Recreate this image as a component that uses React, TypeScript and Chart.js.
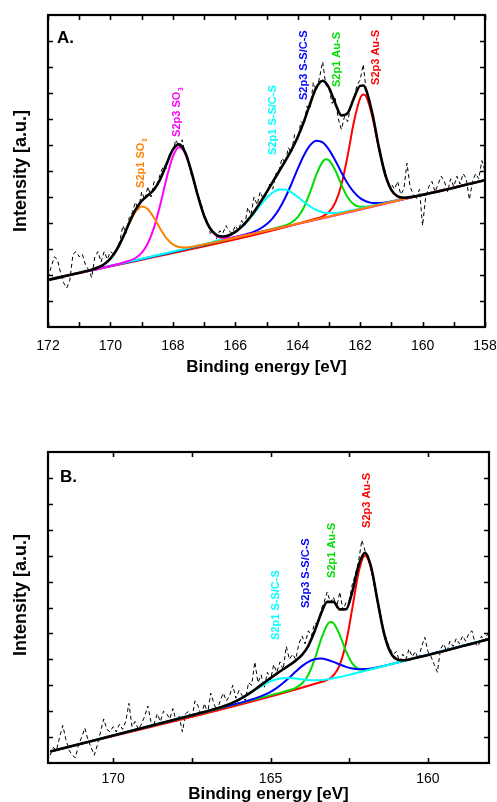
import React, { useEffect, useRef } from "react";
import { Chart, registerables } from "chart.js";
Chart.register(...registerables);

const FONT = "Arial, 'Liberation Sans', Helvetica, sans-serif";

// ---------------- Panel A data ----------------
const topRawStart = 172.0;
const rawStep = 0.1;
const topRaw = [
  1.9, 2.3, 2.7, 2.6, 2.1, 1.7, 1.5, 1.8, 2.8, 2.9,
  2.7, 2.8, 2.4, 2.2, 1.9, 2.7, 2.9, 2.5, 2.9, 2.6,
  2.9, 2.8, 3.0, 3.3, 3.9, 3.6, 4.2, 4.4, 4.8, 4.5,
  5.2, 4.9, 5.4, 5.0, 5.6, 5.5, 5.9, 6.2, 6.1, 6.7,
  6.8, 7.2, 6.9, 7.2, 6.6, 6.4, 5.8, 5.6, 5.0, 4.8,
  4.3, 4.0, 3.6, 3.7, 3.4, 3.7, 3.6, 3.9, 3.7, 3.6,
  3.9, 3.7, 4.1, 3.9, 4.6, 4.3, 5.0, 4.7, 5.2, 4.9,
  5.1, 5.5, 5.3, 5.9, 6.0, 6.5, 6.3, 6.9, 6.7, 7.4,
  7.2, 7.9, 7.8, 8.5, 8.4, 9.4, 9.1, 9.6, 10.2, 9.3,
  9.2, 8.6, 8.8, 8.0, 7.6, 8.1, 7.9, 8.5, 8.8, 9.3,
  9.5, 10.1, 9.0, 8.7, 8.2, 7.5, 7.0, 6.4, 6.0, 5.5,
  5.5, 5.3, 5.6, 5.1, 5.3, 6.3, 5.4, 5.1, 4.9, 5.3,
  3.9, 5.0, 5.4, 5.6, 5.2, 5.5, 5.8, 5.6, 5.2, 5.7,
  5.4, 5.8, 5.5, 5.9, 5.7, 4.9, 5.6, 5.9, 5.7, 6.4,
  6.0,
];

const topSumE = [172, 170.8, 170.6, 170.4, 170.2, 170.0, 169.8, 169.6, 169.4, 169.2, 169.0, 168.8, 168.6, 168.4, 168.2, 168.0, 167.8, 167.6, 167.4, 167.2, 167.0, 166.8, 166.6, 166.4, 166.2, 166.0, 165.8, 165.6, 165.4, 165.2, 165.0, 164.8, 164.6, 164.4, 164.2, 164.0, 163.8, 163.6, 163.4, 163.2, 163.0, 162.8, 162.6, 162.4, 162.2, 162.0, 161.9, 161.8, 161.6, 161.4, 161.2, 161.0, 160.8, 160.6, 160.4, 158];
const topSumY = [1.81, 2.142, 2.206, 2.288, 2.415, 2.628, 2.970, 3.448, 3.998, 4.501, 4.853, 5.066, 5.292, 5.694, 6.275, 6.822, 7.023, 6.702, 5.950, 5.052, 4.282, 3.778, 3.536, 3.475, 3.529, 3.656, 3.851, 4.108, 4.423, 4.788, 5.179, 5.580, 5.982, 6.382, 6.809, 7.308, 7.906, 8.597, 9.212, 9.471, 9.209, 8.608, 8.141, 8.228, 8.798, 9.274, 9.286, 9.091, 8.161, 6.915, 5.879, 5.272, 5.021, 4.970, 4.995, 5.646];

const topOrangeE = [172, 170.8, 170.6, 170.4, 170.2, 170.0, 169.8, 169.6, 169.4, 169.2, 169.0, 168.8, 168.6, 168.4, 168.2, 168.0, 167.8, 167.6, 167.4, 167.2, 158];
const topOrangeY = [1.81, 2.142, 2.206, 2.288, 2.415, 2.628, 2.969, 3.442, 3.974, 4.423, 4.632, 4.533, 4.194, 3.770, 3.407, 3.176, 3.073, 3.056, 3.082, 3.128, 5.646];

const topMagentaE = [172, 169.6, 169.4, 169.2, 169.0, 168.8, 168.6, 168.4, 168.2, 168.0, 167.8, 167.6, 167.4, 167.2, 167.0, 166.8, 166.6, 166.4, 166.2, 166.0, 158];
const topMagentaY = [1.81, 2.474, 2.546, 2.655, 2.853, 3.220, 3.840, 4.720, 5.719, 6.552, 6.911, 6.662, 5.938, 5.049, 4.278, 3.768, 3.511, 3.422, 3.423, 3.460, 5.646];

const topCyanE = [172, 167.0, 166.8, 166.6, 166.4, 166.2, 166.0, 165.8, 165.6, 165.4, 165.2, 165.0, 164.8, 164.6, 164.4, 164.2, 164.0, 163.8, 163.6, 163.4, 163.2, 163.0, 162.8, 162.6, 162.4, 162.2, 158];
const topCyanY = [1.81, 3.184, 3.245, 3.315, 3.397, 3.505, 3.650, 3.843, 4.086, 4.372, 4.678, 4.959, 5.175, 5.288, 5.284, 5.178, 5.007, 4.811, 4.634, 4.500, 4.417, 4.382, 4.384, 4.411, 4.450, 4.499, 5.646];

const topBlueE = [172, 165.8, 165.6, 165.4, 165.2, 165.0, 164.8, 164.6, 164.4, 164.2, 164.0, 163.8, 163.6, 163.4, 163.2, 163.0, 162.8, 162.6, 162.4, 162.2, 162.0, 161.8, 161.6, 161.4, 161.2, 161.0, 158];
const topBlueY = [1.81, 3.517, 3.586, 3.669, 3.783, 3.948, 4.188, 4.528, 4.972, 5.507, 6.081, 6.604, 6.992, 7.166, 7.101, 6.823, 6.410, 5.946, 5.520, 5.185, 4.955, 4.825, 4.770, 4.765, 4.791, 4.832, 5.646];

const topGreenE = [172, 164.6, 164.4, 164.2, 164.0, 163.8, 163.6, 163.4, 163.2, 163.1, 163.0, 162.8, 162.6, 162.4, 162.2, 162.0, 161.8, 161.6, 158];
const topGreenY = [1.81, 3.842, 3.910, 4.018, 4.224, 4.605, 5.194, 5.871, 6.359, 6.449, 6.414, 6.036, 5.468, 4.988, 4.717, 4.621, 4.623, 4.664, 5.646];

const topRedE = [172, 163.4, 163.2, 163.0, 162.8, 162.6, 162.4, 162.2, 162.0, 161.9, 161.8, 161.6, 161.4, 161.2, 161.0, 160.8, 160.6, 160.4, 158];
const topRedY = [1.81, 4.173, 4.257, 4.418, 4.771, 5.474, 6.590, 7.882, 8.798, 8.947, 8.853, 8.047, 6.864, 5.857, 5.264, 5.021, 4.970, 4.995, 5.646];

const topTickLabels = [158, 160, 162, 164, 166, 168, 170, 172];
const topMinorTicks = [159, 161, 163, 165, 167, 169, 171];

const topLabelText = ["S2p1 SO", "S2p3 SO", "S2p1 S-S/C-S", "S2p3 S-S/C-S", "S2p1 Au-S", "S2p3 Au-S"];
const topLabelSub = ["3", "3", "", "", "", ""];
const topLabelEnergy = [169.02, 167.87, 164.79, 163.79, 162.74, 161.49];
const topLabelLevel = [5.35, 7.31, 6.62, 8.73, 9.23, 9.31];

// ---------------- Panel B data ----------------
const botRawStart = 172.0;
const botRaw = [
  0.3, 0.6, 0.5, 1.0, 1.45, 0.9, 0.5, 0.3, 0.2, 0.7,
  1.0, 1.35, 0.9, 0.6, 0.3, 0.7, 1.2, 1.7, 1.3, 1.2,
  1.4, 1.2, 1.5, 1.3, 1.6, 2.3, 1.4, 1.6, 1.3, 1.5,
  1.8, 2.2, 1.6, 1.5, 1.9, 1.6, 2.0, 1.9, 1.7, 2.1,
  1.6, 1.8, 1.2, 1.9, 2.0, 1.7, 2.4, 2.2, 1.8, 2.3,
  1.9, 2.7, 2.3, 2.0, 2.4, 2.7, 2.4, 2.6, 3.0, 2.5,
  2.8, 2.6, 2.4, 3.1, 3.0, 3.9, 3.1, 3.4, 2.9, 3.5,
  3.2, 3.8, 3.5, 3.9, 3.6, 4.5, 4.0, 4.2, 4.0, 4.6,
  4.9, 4.6, 5.1, 4.9, 5.4, 5.3, 5.9, 6.2, 6.6, 6.2,
  6.4, 6.0, 6.6, 5.9, 6.2, 6.3, 6.9, 7.3, 7.8, 8.6,
  8.2, 8.0, 7.4, 6.9, 6.3, 5.7, 5.1, 4.7, 4.4, 4.2,
  4.3, 3.9, 4.2, 4.0, 4.4, 4.1, 4.3, 4.0, 4.5, 4.85,
  4.3, 4.1, 3.8, 3.5, 4.4, 4.6, 4.3, 4.7, 4.5, 4.8,
  4.6, 4.9, 4.7, 5.0, 5.1, 4.6, 4.5, 4.9, 4.7, 5.0,
  4.9,
];

const botSumE = [172, 167.2, 167.0, 166.8, 166.6, 166.4, 166.2, 166.0, 165.8, 165.6, 165.4, 165.2, 165.0, 164.8, 164.6, 164.4, 164.2, 164.0, 163.8, 163.6, 163.4, 163.2, 163.0, 162.8, 162.6, 162.4, 162.2, 162.0, 161.8, 161.6, 161.4, 161.2, 161.0, 160.8, 160.6, 158];
const botSumY = [0.44, 1.937, 2.002, 2.071, 2.146, 2.231, 2.329, 2.448, 2.588, 2.745, 2.919, 3.099, 3.277, 3.451, 3.616, 3.778, 3.950, 4.169, 4.523, 5.082, 5.750, 6.218, 6.218, 5.928, 5.935, 6.617, 7.631, 8.108, 7.533, 6.255, 5.030, 4.291, 4.004, 3.958, 3.995, 4.80];

const botCyanE = [172, 167.2, 167.0, 166.8, 166.6, 166.4, 166.2, 166.0, 165.8, 165.6, 165.4, 165.2, 165.0, 164.8, 164.6, 164.4, 164.2, 164.0, 163.8, 163.6, 163.4, 163.2, 163.0, 162.8, 162.6, 162.4, 158];
const botCyanY = [0.44, 1.937, 2.002, 2.071, 2.146, 2.231, 2.329, 2.445, 2.581, 2.729, 2.884, 3.029, 3.149, 3.232, 3.273, 3.278, 3.258, 3.227, 3.203, 3.193, 3.201, 3.227, 3.267, 3.317, 3.372, 3.431, 4.80];

const botBlueE = [172, 166.0, 165.8, 165.6, 165.4, 165.2, 165.0, 164.8, 164.6, 164.4, 164.2, 164.0, 163.8, 163.6, 163.4, 163.2, 163.0, 162.8, 162.6, 162.4, 162.2, 162.0, 161.8, 161.6, 161.4, 161.2, 158];
const botBlueY = [0.44, 2.311, 2.378, 2.449, 2.530, 2.628, 2.748, 2.901, 3.086, 3.301, 3.527, 3.738, 3.905, 4.006, 4.030, 3.987, 3.901, 3.799, 3.709, 3.648, 3.620, 3.624, 3.651, 3.695, 3.748, 3.806, 4.80];

const botGreenE = [172, 164.6, 164.4, 164.2, 164.0, 163.8, 163.6, 163.4, 163.2, 163.1, 163.0, 162.8, 162.6, 162.4, 162.2, 162.0, 161.8, 161.6, 158];
const botGreenY = [0.44, 2.745, 2.813, 2.903, 3.066, 3.401, 3.995, 4.750, 5.334, 5.441, 5.397, 4.937, 4.306, 3.837, 3.627, 3.588, 3.622, 3.680, 4.80];

const botRedE = [172, 163.4, 163.2, 163.0, 162.8, 162.6, 162.4, 162.2, 162.0, 161.8, 161.6, 161.4, 161.2, 161.0, 160.8, 160.6, 158];
const botRedY = [0.44, 3.123, 3.210, 3.382, 3.790, 4.649, 5.988, 7.368, 8.004, 7.492, 6.238, 5.023, 4.288, 4.004, 3.958, 3.995, 4.80];

const botTickLabels = [160, 165, 170];
const botMinorTicks = [162.5, 167.5];

const botLabelText = ["S2p1 S-S/C-S", "S2p3 S-S/C-S", "S2p1 Au-S", "S2p3 Au-S"];
const botLabelSub = ["", "", "", ""];
const botLabelEnergy = [164.82, 163.87, 163.04, 161.93];
const botLabelLevel = [4.75, 5.98, 7.14, 9.07];

const yTickValues = [1, 2, 3, 4, 5, 6, 7, 8, 9, 10, 11];

// ---------------- styles ----------------
const C_ORANGE = "#ff8000";
const C_MAGENTA = "#ff00ff";
const C_CYAN = "#00ffff";
const C_BLUE = "#0000ff";
const C_GREEN = "#00dd00";
const C_RED = "#ff0000";

const topLabelColor = [C_ORANGE, C_MAGENTA, C_CYAN, C_BLUE, C_GREEN, C_RED];
const botLabelColor = [C_CYAN, C_BLUE, C_GREEN, C_RED];

const pts = (xs: number[], ys: number[]) => xs.map((x, i) => ({ x, y: ys[i] }));
const rawPts = (start: number, ys: number[]) =>
  ys.map((y, i) => ({ x: Math.round((start - i * rawStep) * 100) / 100, y }));

const curve = (data: any, color: string, width = 2) => ({
  data,
  borderColor: color,
  borderWidth: width,
  pointRadius: 0,
  fill: false,
  cubicInterpolationMode: "monotone",
});

type PanelCfg = {
  letter: string;
  letterDx: number;
  letterDy: number;
  xTicks: number[];
  labels: { text: string; sub: string; energy: number; level: number; color: string }[];
};

function makeFramePlugin(cfg: PanelCfg) {
  return {
    id: "frameTicks",
    afterDatasetsDraw(chart: any) {
      const { ctx, chartArea } = chart;
      const { left, right, top, bottom } = chartArea;
      const xs = chart.scales.x;
      const ys = chart.scales.y;
      ctx.save();
      ctx.strokeStyle = "#000";
      ctx.lineWidth = 1.6;
      ctx.beginPath();
      for (const v of cfg.xTicks) {
        const px = Math.round(xs.getPixelForValue(v)) + 0.5;
        ctx.moveTo(px, bottom);
        ctx.lineTo(px, bottom - 5);
        ctx.moveTo(px, top);
        ctx.lineTo(px, top + 5);
      }
      for (const v of yTickValues) {
        const py = Math.round(ys.getPixelForValue(v)) + 0.5;
        ctx.moveTo(left, py);
        ctx.lineTo(left + 5, py);
        ctx.moveTo(right, py);
        ctx.lineTo(right - 5, py);
      }
      ctx.stroke();
      ctx.lineWidth = 2.2;
      ctx.strokeRect(left, top, right - left, bottom - top);

      ctx.fillStyle = "#000";
      ctx.font = `bold 17px ${FONT}`;
      ctx.textAlign = "left";
      ctx.textBaseline = "alphabetic";
      ctx.fillText(cfg.letter, left + cfg.letterDx, top + cfg.letterDy);

      for (const l of cfg.labels) {
        const px = xs.getPixelForValue(l.energy);
        const py = ys.getPixelForValue(l.level);
        ctx.save();
        ctx.translate(px, py);
        ctx.rotate(-Math.PI / 2);
        ctx.fillStyle = l.color;
        ctx.font = `bold 11px ${FONT}`;
        ctx.textAlign = "left";
        ctx.textBaseline = "middle";
        ctx.fillText(l.text, 0, 0);
        if (l.sub) {
          const w = ctx.measureText(l.text).width;
          ctx.font = `bold 7px ${FONT}`;
          ctx.fillText(l.sub, w + 0.5, 4.5);
        }
        ctx.restore();
      }
      ctx.restore();
    },
  };
}

function buildLabels(text: string[], sub: string[], energy: number[], level: number[], color: string[]) {
  return text.map((t, i) => ({ text: t, sub: sub[i], energy: energy[i], level: level[i], color: color[i] }));
}

function makeOptions(o: {
  padTop: number;
  padRight: number;
  xMin: number;
  xMax: number;
  keep: number[];
  xHeight: number;
  tickPad: number;
  titlePadBottom: number;
  yTitle: string;
}) {
  return {
    animation: false,
    responsive: false,
    devicePixelRatio: 1,
    events: [],
    layout: { padding: { left: 0, top: o.padTop, right: o.padRight, bottom: 0 } },
    plugins: { legend: { display: false }, tooltip: { enabled: false } },
    scales: {
      x: {
        type: "linear",
        reverse: true,
        min: o.xMin,
        max: o.xMax,
        grid: { display: false, drawTicks: false },
        border: { display: false },
        ticks: {
          autoSkip: false,
          maxRotation: 0,
          padding: o.tickPad,
          color: "#000",
          font: { family: FONT, size: 14 },
        },
        afterBuildTicks: (s: any) => {
          s.ticks = o.keep.map((v) => ({ value: v }));
        },
        title: {
          display: true,
          text: "Binding energy [eV]",
          color: "#000",
          font: { family: FONT, size: 17, weight: "bold" },
          padding: { top: 0, bottom: o.titlePadBottom },
        },
        afterFit: (s: any) => {
          s.height = o.xHeight;
          s.paddingLeft = 0;
          s.paddingRight = 0;
        },
      },
      y: {
        min: 0,
        max: 12,
        grid: { display: false, drawTicks: false },
        border: { display: false },
        ticks: { display: false },
        title: {
          display: true,
          text: o.yTitle,
          color: "#000",
          font: { family: FONT, size: 18, weight: "bold" },
          padding: { top: 10, bottom: 0 },
        },
        afterFit: (s: any) => {
          s.width = 48;
        },
      },
    },
  };
}

export default function App() {
  const topRef = useRef<HTMLCanvasElement | null>(null);
  const botRef = useRef<HTMLCanvasElement | null>(null);

  useEffect(() => {
    Chart.defaults.font.family = FONT;
    const raw = (data: any) => ({
      data,
      borderColor: "#000",
      borderWidth: 1,
      borderDash: [4, 3],
      pointRadius: 0,
      fill: false,
      tension: 0,
    });

    const topChart = new Chart(topRef.current as HTMLCanvasElement, {
      type: "line",
      data: {
        datasets: [
          curve(pts(topSumE, topSumY), "#000", 2.6),
          curve(pts(topOrangeE, topOrangeY), C_ORANGE),
          curve(pts(topMagentaE, topMagentaY), C_MAGENTA),
          curve(pts(topCyanE, topCyanY), C_CYAN),
          curve(pts(topBlueE, topBlueY), C_BLUE),
          curve(pts(topGreenE, topGreenY), C_GREEN),
          curve(pts(topRedE, topRedY), C_RED),
          raw(rawPts(topRawStart, topRaw)),
        ] as any,
      },
      options: makeOptions({
        padTop: 15,
        padRight: 12,
        xMin: 158,
        xMax: 172,
        keep: topTickLabels,
        xHeight: 63,
        tickPad: 11,
        titlePadBottom: 12,
        yTitle: "Intensity [a.u.]",
      }) as any,
      plugins: [
        makeFramePlugin({
          letter: "A.",
          letterDx: 9,
          letterDy: 28,
          xTicks: [...topTickLabels, ...topMinorTicks],
          labels: buildLabels(topLabelText, topLabelSub, topLabelEnergy, topLabelLevel, topLabelColor),
        }),
      ],
    });

    const botChart = new Chart(botRef.current as HTMLCanvasElement, {
      type: "line",
      data: {
        datasets: [
          curve(pts(botSumE, botSumY), "#000", 2.6),
          curve(pts(botCyanE, botCyanY), C_CYAN),
          curve(pts(botBlueE, botBlueY), C_BLUE),
          curve(pts(botGreenE, botGreenY), C_GREEN),
          curve(pts(botRedE, botRedY), C_RED),
          raw(rawPts(botRawStart, botRaw)),
        ] as any,
      },
      options: makeOptions({
        padTop: 52,
        padRight: 8,
        xMin: 158.06,
        xMax: 172.07,
        keep: botTickLabels,
        xHeight: 60,
        tickPad: 8,
        titlePadBottom: 18,
        yTitle: "     Intensity [a.u.]",
      }) as any,
      plugins: [
        makeFramePlugin({
          letter: "B.",
          letterDx: 12,
          letterDy: 30,
          xTicks: [...botTickLabels, ...botMinorTicks],
          labels: buildLabels(botLabelText, botLabelSub, botLabelEnergy, botLabelLevel, botLabelColor),
        }),
      ],
    });

    return () => {
      topChart.destroy();
      botChart.destroy();
    };
  }, []);

  return (
    <div
      style={{
        position: "fixed",
        left: 0,
        top: 0,
        width: 497,
        height: 802,
        overflow: "hidden",
        background: "#fff",
      }}
    >
      <canvas
        ref={topRef}
        width={497}
        height={390}
        style={{ position: "absolute", left: 0, top: 0, width: 497, height: 390 }}
      />
      <canvas
        ref={botRef}
        width={497}
        height={423}
        style={{ position: "absolute", left: 0, top: 400, width: 497, height: 423 }}
      />
    </div>
  );
}
